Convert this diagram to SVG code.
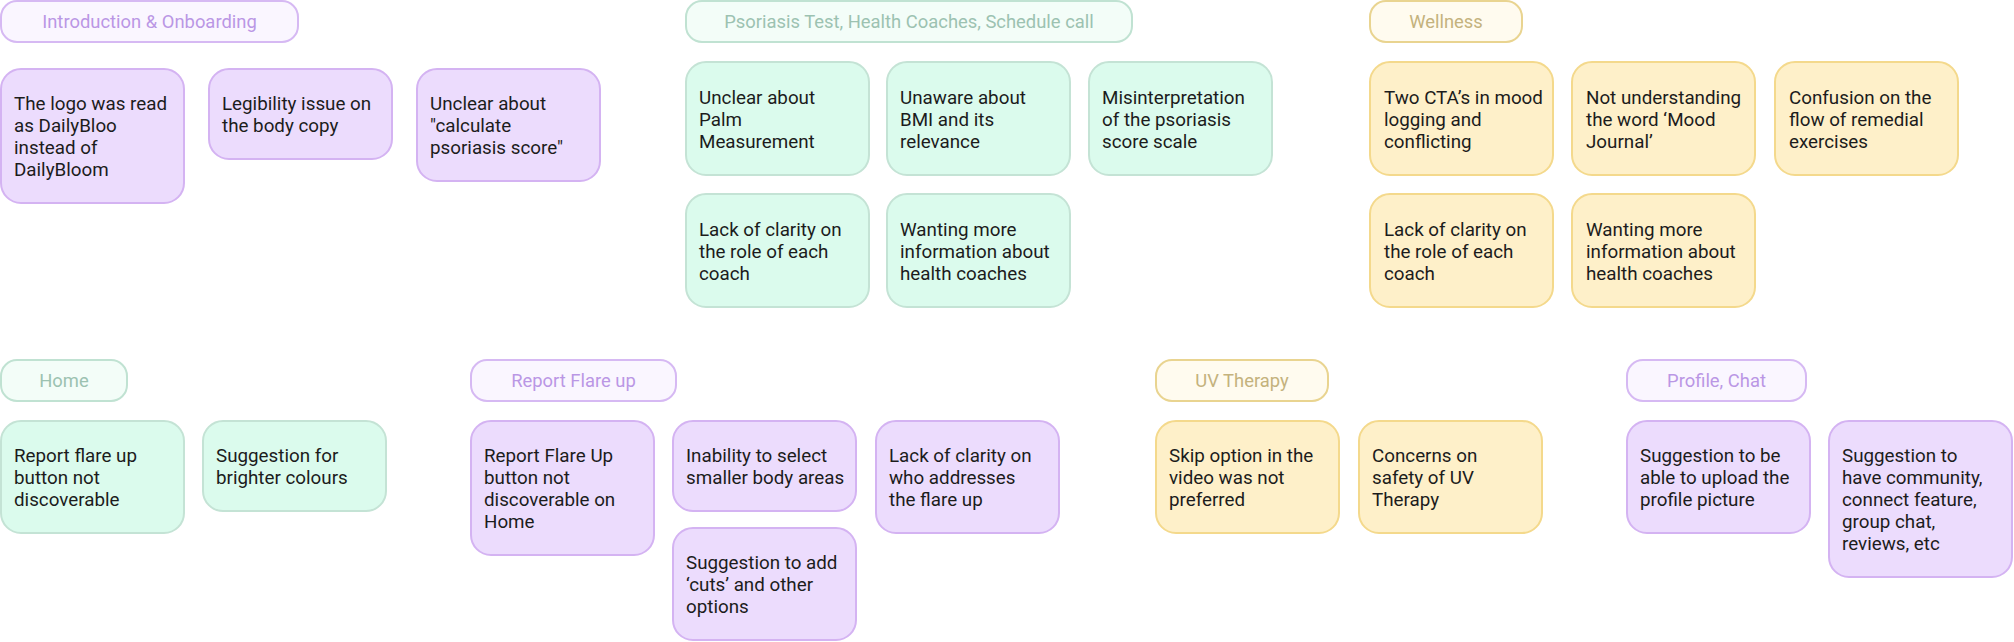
<svg xmlns="http://www.w3.org/2000/svg" width="2014" height="642" viewBox="0 0 2014 642">
<style>
text{font-family:"Roboto","Liberation Sans",sans-serif;}
.card text{font-size:18.8px;fill:#1c1c1c;}
.hd text{font-size:18.4px;text-anchor:middle;}
.pc rect{fill:#ECDCFD;stroke:#D4B3F2;stroke-width:2;}
.gc rect{fill:#DBFBED;stroke:#C4E3D5;stroke-width:2;}
.yc rect{fill:#FEF0C9;stroke:#F4D98C;stroke-width:2;}
.ph rect{fill:#FAF6FF;stroke:#D6B9F3;stroke-width:2;}
.ph text{fill:#BA97E5;}
.gh rect{fill:#F3FDF8;stroke:#C0E2D2;stroke-width:2;}
.gh text{fill:#9CC2B1;}
.yh rect{fill:#FFFBEF;stroke:#E9D490;stroke-width:2;}
.yh text{fill:#C4B27D;}
</style>
<g id="connectors"></g>

<!-- Row 1 headers -->
<g id="h-intro" class="hd ph"><rect x="1" y="1" width="297" height="41" rx="16"/><text x="149.5" y="28">Introduction &amp; Onboarding</text></g>
<g id="h-psoriasis" class="hd gh"><rect x="686" y="1" width="446" height="41" rx="16"/><text x="909" y="28">Psoriasis Test, Health Coaches, Schedule call</text></g>
<g id="h-wellness" class="hd yh"><rect x="1370" y="1" width="152" height="41" rx="16"/><text x="1446" y="28">Wellness</text></g>

<!-- Intro cards -->
<g id="a1" class="card pc"><rect x="1" y="69" width="183" height="134" rx="20"/><text x="14" y="110"><tspan x="14">The logo was read</tspan><tspan x="14" dy="22">as DailyBloo</tspan><tspan x="14" dy="22">instead of</tspan><tspan x="14" dy="22">DailyBloom</tspan></text></g>
<g id="a2" class="card pc"><rect x="209" y="69" width="183" height="90" rx="20"/><text x="222" y="110"><tspan x="222">Legibility issue on</tspan><tspan x="222" dy="22">the body copy</tspan></text></g>
<g id="a3" class="card pc"><rect x="417" y="69" width="183" height="112" rx="20"/><text x="430" y="110"><tspan x="430">Unclear about</tspan><tspan x="430" dy="22">"calculate</tspan><tspan x="430" dy="22">psoriasis score"</tspan></text></g>

<!-- Psoriasis cards -->
<g id="b1" class="card gc"><rect x="686" y="62" width="183" height="113" rx="20"/><text x="699" y="104"><tspan x="699">Unclear about</tspan><tspan x="699" dy="22">Palm</tspan><tspan x="699" dy="22">Measurement</tspan></text></g>
<g id="b2" class="card gc"><rect x="887" y="62" width="183" height="113" rx="20"/><text x="900" y="104"><tspan x="900">Unaware about</tspan><tspan x="900" dy="22">BMI and its</tspan><tspan x="900" dy="22">relevance</tspan></text></g>
<g id="b3" class="card gc"><rect x="1089" y="62" width="183" height="113" rx="20"/><text x="1102" y="104"><tspan x="1102">Misinterpretation</tspan><tspan x="1102" dy="22">of the psoriasis</tspan><tspan x="1102" dy="22">score scale</tspan></text></g>
<g id="b4" class="card gc"><rect x="686" y="194" width="183" height="113" rx="20"/><text x="699" y="236"><tspan x="699">Lack of clarity on</tspan><tspan x="699" dy="22">the role of each</tspan><tspan x="699" dy="22">coach</tspan></text></g>
<g id="b5" class="card gc"><rect x="887" y="194" width="183" height="113" rx="20"/><text x="900" y="236"><tspan x="900">Wanting more</tspan><tspan x="900" dy="22">information about</tspan><tspan x="900" dy="22">health coaches</tspan></text></g>

<!-- Wellness cards -->
<g id="c1" class="card yc"><rect x="1370" y="62" width="183" height="113" rx="20"/><text x="1384" y="104"><tspan x="1384">Two CTA’s in mood</tspan><tspan x="1384" dy="22">logging and</tspan><tspan x="1384" dy="22">conflicting</tspan></text></g>
<g id="c2" class="card yc"><rect x="1572" y="62" width="183" height="113" rx="20"/><text x="1586" y="104"><tspan x="1586">Not understanding</tspan><tspan x="1586" dy="22">the word ‘Mood</tspan><tspan x="1586" dy="22">Journal’</tspan></text></g>
<g id="c3" class="card yc"><rect x="1775" y="62" width="183" height="113" rx="20"/><text x="1789" y="104"><tspan x="1789">Confusion on the</tspan><tspan x="1789" dy="22">flow of remedial</tspan><tspan x="1789" dy="22">exercises</tspan></text></g>
<g id="c4" class="card yc"><rect x="1370" y="194" width="183" height="113" rx="20"/><text x="1384" y="236"><tspan x="1384">Lack of clarity on</tspan><tspan x="1384" dy="22">the role of each</tspan><tspan x="1384" dy="22">coach</tspan></text></g>
<g id="c5" class="card yc"><rect x="1572" y="194" width="183" height="113" rx="20"/><text x="1586" y="236"><tspan x="1586">Wanting more</tspan><tspan x="1586" dy="22">information about</tspan><tspan x="1586" dy="22">health coaches</tspan></text></g>

<!-- Row 2 headers -->
<g id="h-home" class="hd gh"><rect x="1" y="360" width="126" height="41" rx="16"/><text x="64" y="387">Home</text></g>
<g id="h-flare" class="hd ph"><rect x="471" y="360" width="205" height="41" rx="16"/><text x="573.5" y="387">Report Flare up</text></g>
<g id="h-uv" class="hd yh"><rect x="1156" y="360" width="172" height="41" rx="16"/><text x="1242" y="387">UV Therapy</text></g>
<g id="h-profile" class="hd ph"><rect x="1627" y="360" width="179" height="41" rx="16"/><text x="1716.5" y="387">Profile, Chat</text></g>

<!-- Home cards -->
<g id="d1" class="card gc"><rect x="1" y="421" width="183" height="112" rx="20"/><text x="14" y="462"><tspan x="14">Report flare up</tspan><tspan x="14" dy="22">button not</tspan><tspan x="14" dy="22">discoverable</tspan></text></g>
<g id="d2" class="card gc"><rect x="203" y="421" width="183" height="90" rx="20"/><text x="216" y="462"><tspan x="216">Suggestion for</tspan><tspan x="216" dy="22">brighter colours</tspan></text></g>

<!-- Flare cards -->
<g id="e1" class="card pc"><rect x="471" y="421" width="183" height="134" rx="20"/><text x="484" y="462"><tspan x="484">Report Flare Up</tspan><tspan x="484" dy="22">button not</tspan><tspan x="484" dy="22">discoverable on</tspan><tspan x="484" dy="22">Home</tspan></text></g>
<g id="e2" class="card pc"><rect x="673" y="421" width="183" height="90" rx="20"/><text x="686" y="462"><tspan x="686">Inability to select</tspan><tspan x="686" dy="22">smaller body areas</tspan></text></g>
<g id="e3" class="card pc"><rect x="876" y="421" width="183" height="112" rx="20"/><text x="889" y="462"><tspan x="889">Lack of clarity on</tspan><tspan x="889" dy="22">who addresses</tspan><tspan x="889" dy="22">the flare up</tspan></text></g>
<g id="e4" class="card pc"><rect x="673" y="528" width="183" height="112" rx="20"/><text x="686" y="569"><tspan x="686">Suggestion to add</tspan><tspan x="686" dy="22">‘cuts’ and other</tspan><tspan x="686" dy="22">options</tspan></text></g>

<!-- UV cards -->
<g id="f1" class="card yc"><rect x="1156" y="421" width="183" height="112" rx="20"/><text x="1169" y="462"><tspan x="1169">Skip option in the</tspan><tspan x="1169" dy="22">video was not</tspan><tspan x="1169" dy="22">preferred</tspan></text></g>
<g id="f2" class="card yc"><rect x="1359" y="421" width="183" height="112" rx="20"/><text x="1372" y="462"><tspan x="1372">Concerns on</tspan><tspan x="1372" dy="22">safety of UV</tspan><tspan x="1372" dy="22">Therapy</tspan></text></g>

<!-- Profile cards -->
<g id="g1" class="card pc"><rect x="1627" y="421" width="183" height="112" rx="20"/><text x="1640" y="462"><tspan x="1640">Suggestion to be</tspan><tspan x="1640" dy="22">able to upload the</tspan><tspan x="1640" dy="22">profile picture</tspan></text></g>
<g id="g2" class="card pc"><rect x="1829" y="421" width="183" height="156" rx="20"/><text x="1842" y="462"><tspan x="1842">Suggestion to</tspan><tspan x="1842" dy="22">have community,</tspan><tspan x="1842" dy="22">connect feature,</tspan><tspan x="1842" dy="22">group chat,</tspan><tspan x="1842" dy="22">reviews, etc</tspan></text></g>
</svg>
